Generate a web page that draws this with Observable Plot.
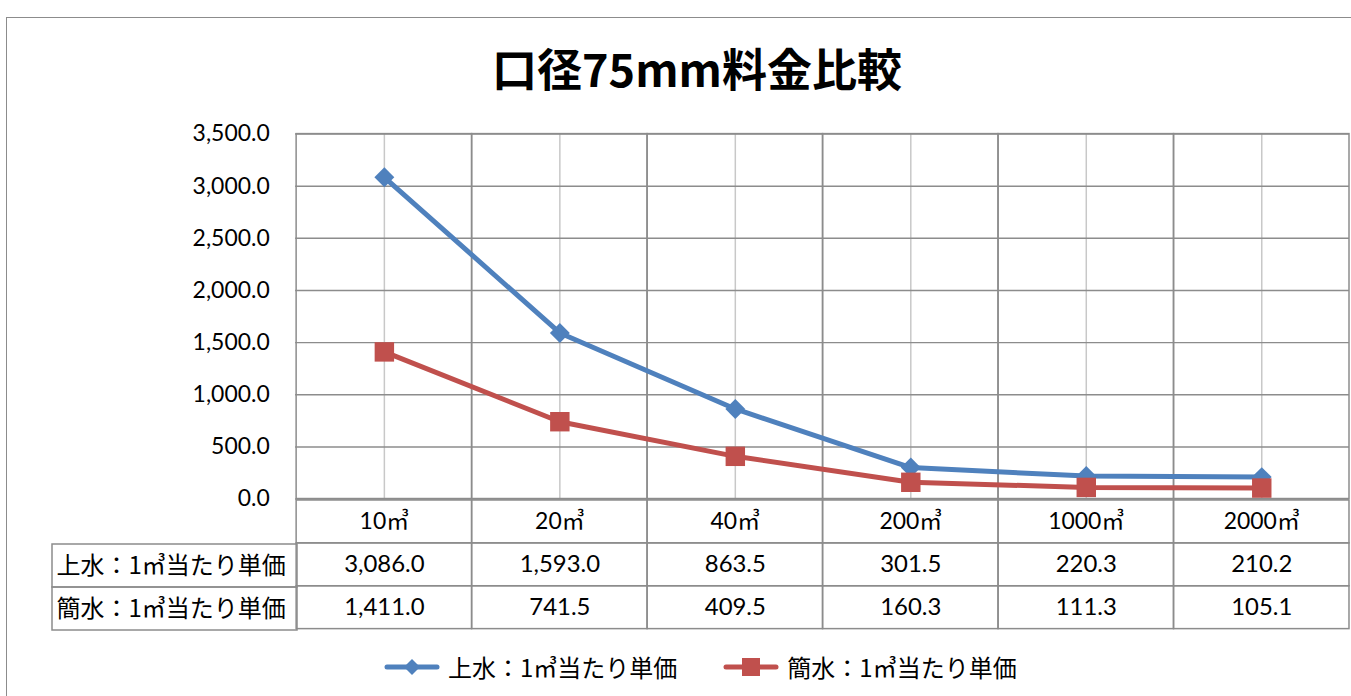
<!DOCTYPE html>
<html><head><meta charset="utf-8">
<script src="https://cdn.jsdelivr.net/npm/d3@7"></script>
<script src="https://cdn.jsdelivr.net/npm/@observablehq/plot@0.6"></script>
<style>
body{margin:0;width:1351px;height:696px;overflow:hidden;background:#fff;position:relative;font-family:Lato,"Noto Sans CJK JP",sans-serif;}
#frame{position:absolute;left:6px;top:17px;width:1400px;height:700px;border:1.5px solid #8c8c8c;box-sizing:border-box;}
#title{position:absolute;left:0;top:44px;width:1394px;text-align:center;font:bold 45px/48px "Noto Sans CJK JP",sans-serif;color:#000;}
#chart{position:absolute;left:0;top:0;}
#table{position:absolute;left:0;top:499px;}
#labels{position:absolute;left:51px;top:542px;}
#legend{position:absolute;left:384px;top:650px;display:flex;align-items:center;font:24px/34px "Noto Sans CJK JP",sans-serif;color:#000;}
#legend .item{display:flex;align-items:center;margin-right:46px;}
#legend svg{margin-right:8px;}
svg{overflow:visible}
</style></head><body>
<div id="frame"></div>
<div id="title">口径75mm料金比較</div>
<div id="chart"></div>
<div id="table"></div>
<div id="labels"></div>
<div id="legend"></div>
<script>
const categories = ["10㎥","20㎥","40㎥","200㎥","1000㎥","2000㎥"];
const seriesNames = ["上水：1㎥当たり単価","簡水：1㎥当たり単価"];
const josui = [3086.0,1593.0,863.5,301.5,220.3,210.2];
const kansui = [1411.0,741.5,409.5,160.3,111.3,105.1];
const yTicks = [0,500,1000,1500,2000,2500,3000,3500];
const colors = ["#4F81BD","#C0504D"];
const symbols = ["diamond2","square"];

const fmt = d3.format(",.1f");
const seriesValues = [josui, kansui];
const points = seriesNames.flatMap((s, si) => categories.map((c, i) => ({series: s, cat: c, value: seriesValues[si][i], si})));

const baseStyle = {fontFamily: 'Lato, "Noto Sans CJK JP", sans-serif', fontSize: "22px", background: "transparent", color: "#000", overflow: "visible"};
const gridColor = "#8c8c8c";

// Main chart
const chart = Plot.plot({
  width: 1355, height: 501,
  marginTop: 134, marginBottom: 1, marginLeft: 296, marginRight: 2,
  style: baseStyle,
  x: {domain: categories, padding: 0, axis: null},
  y: {domain: [0, 3500], axis: null},
  marks: [
    Plot.ruleX(categories, {x: d => d, stroke: "#c8c8c8", strokeWidth: 1.5}),
    Plot.ruleY(yTicks, {y: d => d, stroke: gridColor, strokeWidth: 1.5}),
    Plot.cell(categories, {x: d => d, fill: "none", stroke: gridColor, strokeWidth: 1.5, inset: 0}),
    Plot.axisY(yTicks, {tickSize: 0, tickPadding: 26, tickFormat: fmt, fontSize: 23, fill: "#000", label: null}),
    ...seriesNames.map((s, si) => Plot.line(points.filter(p => p.si === si), {x: "cat", y: "value", stroke: colors[si], strokeWidth: 5})),
    Plot.dot(points.filter(p => p.si === 0), {x: "cat", y: "value", symbol: symbols[0], r: 9, fill: colors[0], stroke: "none"}),
    Plot.dot(points.filter(p => p.si === 1), {x: "cat", y: "value", symbol: symbols[1], r: 11, fill: colors[1], stroke: "none"})
  ]
});
document.getElementById("chart").appendChild(chart);

// Data table under the chart
const rows = ["header", ...seriesNames];
const cells = rows.flatMap(r => categories.map(c => ({row: r, cat: c})));
const table = Plot.plot({
  width: 1355, height: 131,
  marginTop: 1, marginBottom: 1, marginLeft: 296, marginRight: 2,
  style: baseStyle,
  x: {domain: categories, padding: 0, axis: null},
  y: {domain: rows, padding: 0, axis: null},
  marks: [
    Plot.cell(cells, {x: "cat", y: "row", fill: "none", stroke: gridColor, strokeWidth: 1.5, inset: 0}),
    Plot.text(categories, {x: d => d, y: () => "header", text: d => d, fontSize: 23, fill: "#000"}),
    Plot.text(points, {x: "cat", y: "series", text: d => fmt(d.value), fontSize: 24, fill: "#000"})
  ]
});
document.getElementById("table").appendChild(table);

// Row labels column
const labels = Plot.plot({
  width: 247, height: 89,
  marginTop: 1, marginBottom: 1, marginLeft: 1, marginRight: 1,
  style: {...baseStyle, fontFamily: '"Noto Sans CJK JP", sans-serif'},
  y: {domain: seriesNames, padding: 0, axis: null},
  marks: [
    Plot.cell(seriesNames, {y: d => d, fill: "none", stroke: gridColor, strokeWidth: 1.5, inset: 0}),
    Plot.text(seriesNames, {y: d => d, text: d => d, frameAnchor: "left", textAnchor: "start", dx: 4, fontSize: 24, fill: "#000"})
  ]
});
document.getElementById("labels").appendChild(labels);

// Legend
const legend = document.getElementById("legend");
seriesNames.forEach((s, si) => {
  const item = document.createElement("div");
  item.className = "item";
  const sym = si === 0
    ? `<path d="M28,-8 L36,0 L28,8 L20,0 Z" fill="${colors[0]}"/>`
    : `<rect x="19" y="-9" width="18" height="18" fill="${colors[1]}"/>`;
  item.innerHTML = `<svg width="56" height="20" viewBox="0 -10 56 20"><line x1="3" x2="53" y1="0" y2="0" stroke="${colors[si]}" stroke-width="5" stroke-linecap="round"/>${sym}</svg><span>${s}</span>`;
  legend.appendChild(item);
});
</script>
</body></html>
